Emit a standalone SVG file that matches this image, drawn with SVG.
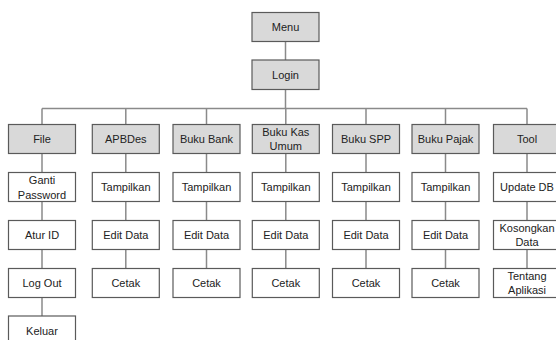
<svg xmlns="http://www.w3.org/2000/svg" width="556" height="340" viewBox="0 0 556 340">
<style>
.c{stroke:#8a8a8a;stroke-width:1.5;fill:none}
.h rect{fill:#d9d9d9;stroke:#5a5a5a;stroke-width:1.2}
.n rect{fill:#ffffff;stroke:#5a5a5a;stroke-width:1.2}
text{font-family:"Liberation Sans",Arial,sans-serif;font-size:11px;fill:#222;text-anchor:middle}
</style>
<rect width="556" height="340" fill="#fff"/>
<g id="connectors">
<path class="c" d="M285.5 41.5V60M285.5 89.5V108.5M42 108.5H527M42 108.5V316M125.8 108.5V268M206.5 108.5V268M285.8 108.5V268M366 108.5V268M445.5 108.5V268M527 108.5V268"/>
</g>
<g id="menu" class="h"><rect x="252" y="12.5" width="67" height="29"/><text x="285.5" y="31">Menu</text></g>
<g id="login" class="h"><rect x="252" y="60" width="67" height="29.5"/><text x="285.5" y="78.5">Login</text></g>

<g id="file" class="h"><rect x="8.5" y="124.5" width="67" height="29"/><text x="42" y="143">File</text></g>
<g id="apbdes" class="h"><rect x="92.3" y="124.5" width="67" height="29"/><text x="125.8" y="143">APBDes</text></g>
<g id="bukubank" class="h"><rect x="173" y="124.5" width="67" height="29"/><text x="206.5" y="143">Buku Bank</text></g>
<g id="bukukas" class="h"><rect x="252.3" y="124.5" width="67" height="29"/><text x="285.8" y="135.5">Buku Kas</text><text x="285.8" y="149.5">Umum</text></g>
<g id="bukuspp" class="h"><rect x="332.5" y="124.5" width="67" height="29"/><text x="366" y="143">Buku SPP</text></g>
<g id="bukupajak" class="h"><rect x="412" y="124.5" width="67" height="29"/><text x="445.5" y="143">Buku Pajak</text></g>
<g id="tool" class="h"><rect x="493.5" y="124.5" width="67" height="29"/><text x="527" y="143">Tool</text></g>

<g id="gantipassword" class="n"><rect x="8.5" y="172.5" width="67" height="29"/><text x="42" y="183.5">Ganti</text><text x="42" y="198.5">Password</text></g>
<g id="aturid" class="n"><rect x="8.5" y="220.5" width="67" height="29"/><text x="42" y="239">Atur ID</text></g>
<g id="logout" class="n"><rect x="8.5" y="268.5" width="67" height="29"/><text x="42" y="287">Log Out</text></g>
<g id="keluar" class="n"><rect x="8.5" y="316" width="67" height="29"/><text x="42" y="334.5">Keluar</text></g>

<g id="apbdes-tampilkan" class="n"><rect x="92.3" y="172.5" width="67" height="29"/><text x="125.8" y="191">Tampilkan</text></g>
<g id="apbdes-edit" class="n"><rect x="92.3" y="220.5" width="67" height="29"/><text x="125.8" y="239">Edit Data</text></g>
<g id="apbdes-cetak" class="n"><rect x="92.3" y="268.5" width="67" height="29"/><text x="125.8" y="287">Cetak</text></g>

<g id="bank-tampilkan" class="n"><rect x="173" y="172.5" width="67" height="29"/><text x="206.5" y="191">Tampilkan</text></g>
<g id="bank-edit" class="n"><rect x="173" y="220.5" width="67" height="29"/><text x="206.5" y="239">Edit Data</text></g>
<g id="bank-cetak" class="n"><rect x="173" y="268.5" width="67" height="29"/><text x="206.5" y="287">Cetak</text></g>

<g id="kas-tampilkan" class="n"><rect x="252.3" y="172.5" width="67" height="29"/><text x="285.8" y="191">Tampilkan</text></g>
<g id="kas-edit" class="n"><rect x="252.3" y="220.5" width="67" height="29"/><text x="285.8" y="239">Edit Data</text></g>
<g id="kas-cetak" class="n"><rect x="252.3" y="268.5" width="67" height="29"/><text x="285.8" y="287">Cetak</text></g>

<g id="spp-tampilkan" class="n"><rect x="332.5" y="172.5" width="67" height="29"/><text x="366" y="191">Tampilkan</text></g>
<g id="spp-edit" class="n"><rect x="332.5" y="220.5" width="67" height="29"/><text x="366" y="239">Edit Data</text></g>
<g id="spp-cetak" class="n"><rect x="332.5" y="268.5" width="67" height="29"/><text x="366" y="287">Cetak</text></g>

<g id="pajak-tampilkan" class="n"><rect x="412" y="172.5" width="67" height="29"/><text x="445.5" y="191">Tampilkan</text></g>
<g id="pajak-edit" class="n"><rect x="412" y="220.5" width="67" height="29"/><text x="445.5" y="239">Edit Data</text></g>
<g id="pajak-cetak" class="n"><rect x="412" y="268.5" width="67" height="29"/><text x="445.5" y="287">Cetak</text></g>

<g id="updatedb" class="n"><rect x="493.5" y="172.5" width="67" height="29"/><text x="527" y="191">Update DB</text></g>
<g id="kosongkan" class="n"><rect x="493.5" y="220.5" width="67" height="29"/><text x="527" y="231.5">Kosongkan</text><text x="527" y="246">Data</text></g>
<g id="tentang" class="n"><rect x="493.5" y="268.5" width="67" height="29"/><text x="527" y="279.5">Tentang</text><text x="527" y="294">Aplikasi</text></g>
</svg>
